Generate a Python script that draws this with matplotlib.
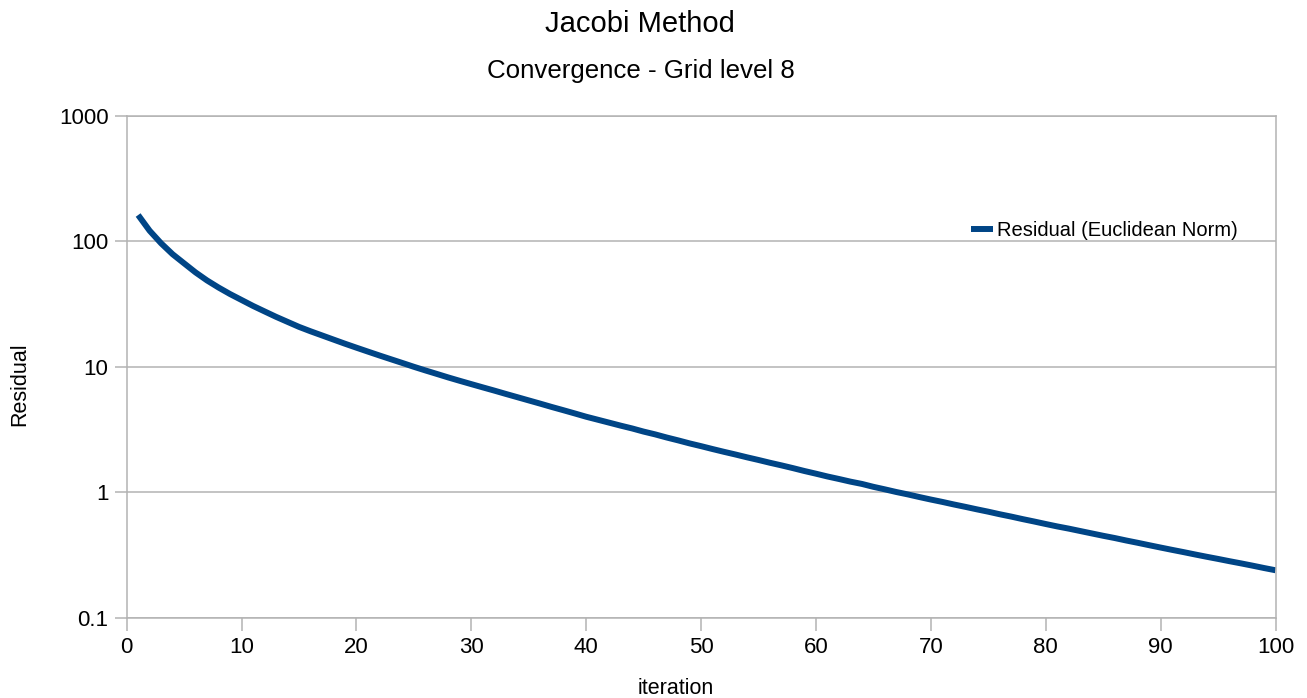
import numpy as np
import matplotlib.pyplot as plt

plt.rcParams['font.family'] = ['Liberation Sans', 'DejaVu Sans']

iterations = list(range(1, 101))
residual = [
    161.1, 120.8, 95.9, 78.5, 66.4, 56.2, 48.5, 42.6, 37.8, 33.9,
    30.4, 27.5, 24.9, 22.7, 20.7, 19.1, 17.7, 16.4, 15.2, 14.13,
    13.15, 12.25, 11.43, 10.67, 9.95, 9.31, 8.73, 8.18, 7.69, 7.24,
    6.82, 6.43, 6.05, 5.70, 5.37, 5.06, 4.76, 4.49, 4.23, 3.98,
    3.77, 3.57, 3.38, 3.21, 3.03, 2.88, 2.72, 2.58, 2.44, 2.32,
    2.20, 2.09, 1.99, 1.89, 1.80, 1.71, 1.63, 1.55, 1.47, 1.40,
    1.33, 1.27, 1.21, 1.16, 1.10, 1.05, 1.00, 0.957, 0.912, 0.871,
    0.834, 0.796, 0.762, 0.728, 0.697, 0.665, 0.637, 0.608, 0.582, 0.556,
    0.532, 0.511, 0.489, 0.468, 0.448, 0.430, 0.411, 0.394, 0.377, 0.361,
    0.346, 0.332, 0.318, 0.305, 0.293, 0.281, 0.270, 0.259, 0.248, 0.238,
]
y_ticks = [0.1, 1, 10, 100, 1000]
y_tick_labels = ['0.1', '1', '10', '100', '1000']
x_ticks = list(range(0, 101, 10))

grid_color = '#b3b3b3'
line_color = '#004586'

fig = plt.figure(figsize=(13.07, 6.98), dpi=100)
ax = fig.add_axes([0.0969, 0.1153, 0.879, 0.7192])

ax.plot(iterations, residual, color=line_color, linewidth=4.3,
        solid_capstyle='butt', label='Residual (Euclidean Norm)')

ax.set_yscale('log')
ax.set_ylim(0.1, 1000)
ax.set_xlim(0, 100)
ax.set_yticks(y_ticks)
ax.set_yticklabels(y_tick_labels)
ax.minorticks_off()
ax.set_xticks(x_ticks)

ax.grid(True, axis='y', color=grid_color, linewidth=1.1)
ax.set_axisbelow(True)
for side in ['left', 'right', 'bottom', 'top']:
    ax.spines[side].set_color(grid_color)
    ax.spines[side].set_linewidth(1.1)
ax.tick_params(axis='both', colors=grid_color, labelcolor='black',
               labelsize=16, length=9, width=1.1)
ax.tick_params(axis='x', pad=5)
ax.tick_params(axis='y', pad=4)

ax.set_xlabel('iteration', fontsize=15.5)
ax.xaxis.set_label_coords(0.478, -0.1404)
ax.xaxis.label.set_va('center')
ax.set_ylabel('Residual', fontsize=15.5)
ax.yaxis.set_label_coords(-0.0929, 0.465)
ax.yaxis.label.set_va('center')

fig.text(0.49, 0.9656, 'Jacobi Method', ha='center', va='center', fontsize=21)
fig.text(0.49, 0.898, 'Convergence - Grid level 8', ha='center', va='center', fontsize=18.6)

leg = ax.legend(loc='center left', bbox_to_anchor=(0.735, 0.77), frameon=False,
                fontsize=14.5, handlelength=1.1, handletextpad=0.2, borderpad=0,
                borderaxespad=0)

fig.savefig('out.png', dpi=100)
